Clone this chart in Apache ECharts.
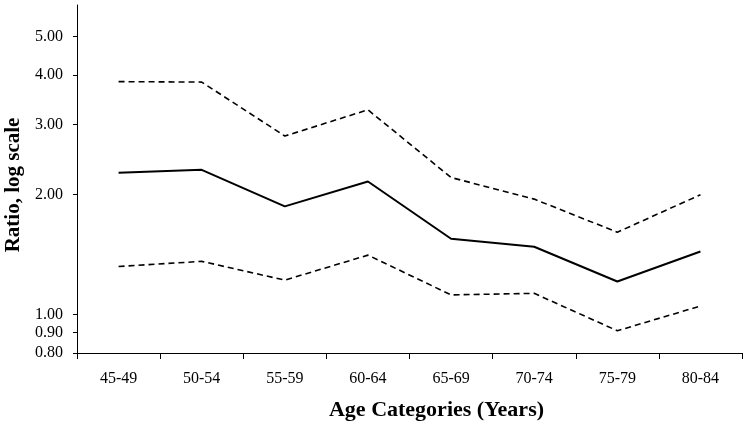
<!DOCTYPE html>
<html>
<head>
<meta charset="utf-8">
<script src="https://cdn.jsdelivr.net/npm/echarts@6/dist/echarts.min.js"></script>
<style>
  html, body { margin: 0; padding: 0; background: #fff; }
  #main { width: 748px; height: 425px; }
</style>
</head>
<body>
<div id="main"></div>
<script>
// age groups along the x axis
const ageGroups = ['45-49', '50-54', '55-59', '60-64', '65-69', '70-74', '75-79', '80-84'];
// ratio estimate and its confidence limits
const ratio = [2.27, 2.31, 1.87, 2.16, 1.55, 1.48, 1.21, 1.44];
const upperLimit = [3.85, 3.84, 2.81, 3.27, 2.21, 1.95, 1.61, 2.00];
const lowerLimit = [1.32, 1.36, 1.22, 1.41, 1.12, 1.13, 0.91, 1.05];
// tick values on the log axis
const yTicks = [0.8, 0.9, 1, 2, 3, 4, 5];

const font = 'Liberation Serif';
let chartDom = document.getElementById('main');
let myChart = echarts.init(chartDom);

let option = {
  backgroundColor: '#fff',
  animation: false,
  grid: { left: 77, right: 6, top: 5, bottom: 72, outerBoundsMode: 'none', containLabel: false },
  xAxis: {
    type: 'category',
    data: ageGroups,
    boundaryGap: true,
    name: 'Age Categories (Years)',
    nameLocation: 'middle',
    nameGap: 46,
    nameTextStyle: {
      fontFamily: font, fontWeight: 'bold', fontSize: 22, color: '#000',
      padding: [0, 0, 0, 54]
    },
    axisLine: { lineStyle: { color: '#000', width: 1 } },
    axisTick: { show: true, length: 6, alignWithLabel: false, lineStyle: { color: '#000' } },
    axisLabel: { fontFamily: font, fontSize: 16, color: '#000', margin: 18 },
    splitLine: { show: false }
  },
  yAxis: {
    type: 'log',
    logBase: 10,
    min: 0.8,
    max: 6,
    name: 'Ratio, log scale',
    nameLocation: 'middle',
    nameGap: 53,
    nameTextStyle: {
      fontFamily: font, fontWeight: 'bold', fontSize: 21, color: '#000',
      padding: [0, 12, 0, 0]
    },
    axisLine: { show: true, lineStyle: { color: '#000', width: 1 } },
    axisTick: { show: true, length: 4, customValues: yTicks, lineStyle: { color: '#000' } },
    minorTick: { show: false },
    axisLabel: {
      fontFamily: font, fontSize: 16, color: '#000', margin: 14,
      customValues: yTicks,
      formatter: function (v) { return Number(v).toFixed(2); }
    },
    splitLine: { show: false }
  },
  series: [
    {
      name: 'Upper',
      type: 'line',
      data: upperLimit,
      symbol: 'none',
      lineStyle: { color: '#000', width: 1.6, type: [6, 4] }
    },
    {
      name: 'Ratio',
      type: 'line',
      data: ratio,
      symbol: 'none',
      lineStyle: { color: '#000', width: 2 }
    },
    {
      name: 'Lower',
      type: 'line',
      data: lowerLimit,
      symbol: 'none',
      lineStyle: { color: '#000', width: 1.6, type: [6, 4] }
    }
  ]
};
option && myChart.setOption(option);
</script>
</body>
</html>
